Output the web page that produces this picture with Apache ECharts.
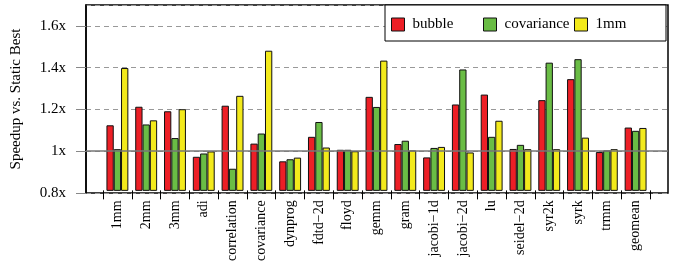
<!DOCTYPE html>
<html><head><meta charset="utf-8">
<script src="https://cdn.jsdelivr.net/npm/echarts@6/dist/echarts.min.js"></script>
<style>html,body{margin:0;padding:0;background:#fff}#c{width:678px;height:264px}</style>
</head><body><div id="c"></div>
<script>
const categories = ['1mm','2mm','3mm','adi','correlation','covariance','dynprog','fdtd\u22122d','floyd','gemm','gram','jacobi\u22121d','jacobi\u22122d','lu','seidel\u22122d','syr2k','syrk','trmm','geomean'];
const bubble     = [1.116,1.206,1.184,0.963,1.211,1.027,0.941,1.060,0.997,1.254,1.025,0.960,1.217,1.265,1.001,1.238,1.340,0.986,1.105];
const covariance = [1.000,1.120,1.054,0.979,0.905,1.076,0.951,1.132,0.997,1.205,1.041,1.006,1.387,1.060,1.021,1.420,1.437,0.994,1.089];
const mm1        = [1.394,1.140,1.194,0.989,1.259,1.478,0.959,1.008,0.990,1.430,0.994,1.011,0.984,1.138,1.000,1.000,1.056,1.000,1.103];
const yTicks = [0.8, 1.0, 1.2, 1.4, 1.6];
const seriesNames = ['bubble','covariance','1mm'];
const colors = ['#ed1f26','#6abd45','#f3ea1c'];
const serif = 'Liberation Serif';

const chart = echarts.init(document.getElementById('c'), null, {renderer:'canvas'});
const barSeries = [bubble, covariance, mm1].map((d, i) => ({
  name: seriesNames[i], type: 'bar', xAxisIndex: 1, yAxisIndex: 1, data: d,
  barWidth: 7.3, barGap: '0%',
  itemStyle: {color: colors[i], borderColor: '#111', borderWidth: 1},
  z: 3
}));
const legendPos = [391, 483, 574];
chart.setOption({
  animation: false,
  grid: [
    {left: 86, right: 10, top: 5, bottom: 71, show: true, borderColor: '#000', borderWidth: 1.5, backgroundColor: 'transparent'},
    {left: 103, right: 28, top: 5, bottom: 71}
  ],
  xAxis: [
    {gridIndex: 0, type: 'value', min: 0, max: 1, show: false},
    {gridIndex: 1, type: 'category', data: categories,
     axisLine: {show: false},
     axisTick: {show: true, length: 9, lineStyle: {color: '#000', width: 1}},
     axisLabel: {interval: 0, rotate: 90, margin: 10, fontFamily: serif, fontSize: 14, color: '#000'}}
  ],
  yAxis: [
    {gridIndex: 0, type: 'value', min: 0.8, max: 1.7, interval: 0.2,
     name: 'Speedup vs. Static Best', nameLocation: 'middle', nameRotate: 90, nameGap: 62,
     nameTextStyle: {fontFamily: serif, fontSize: 15, color: '#000'},
     axisLine: {show: true, lineStyle: {color: '#000', width: 1.5}},
     axisTick: {show: true, length: 10, inside: false, lineStyle: {color: '#888'}},
     axisLabel: {margin: 20, fontFamily: serif, fontSize: 15, color: '#000',
       formatter: v => (Math.abs(v - 1) < 1e-9 ? '1x' : v.toFixed(1) + 'x'),
       showMaxLabel: false},
     splitLine: {show: true, lineStyle: {color: '#999', type: [5, 4], width: 1}}},
    {gridIndex: 1, type: 'value', min: 0.8, max: 1.7, interval: 0.2, show: false, splitLine: {show: false}}
  ],
  legend: seriesNames.map((n, i) => ({
    data: [n], left: legendPos[i], top: 17, padding: 0, itemWidth: 13, itemHeight: 13,
    icon: 'rect', selectedMode: false, z: 20,
    itemStyle: {borderColor: '#111', borderWidth: 1},
    textStyle: {fontFamily: serif, fontSize: 15, color: '#000', padding: [0, 0, 0, 3]}
  })),
  graphic: [{type: 'rect', shape: {x: 385, y: 5, width: 281, height: 36}, z: 10,
    style: {fill: '#fff', stroke: '#000', lineWidth: 1}}],
  series: [
    {type: 'line', xAxisIndex: 0, yAxisIndex: 0, data: [], silent: true, z: 1,
     markLine: {silent: true, symbol: 'none', label: {show: false},
       lineStyle: {color: '#777', type: 'solid', width: 1.5}, data: [{yAxis: 1}]}},
    ...barSeries
  ]
});
</script></body></html>
